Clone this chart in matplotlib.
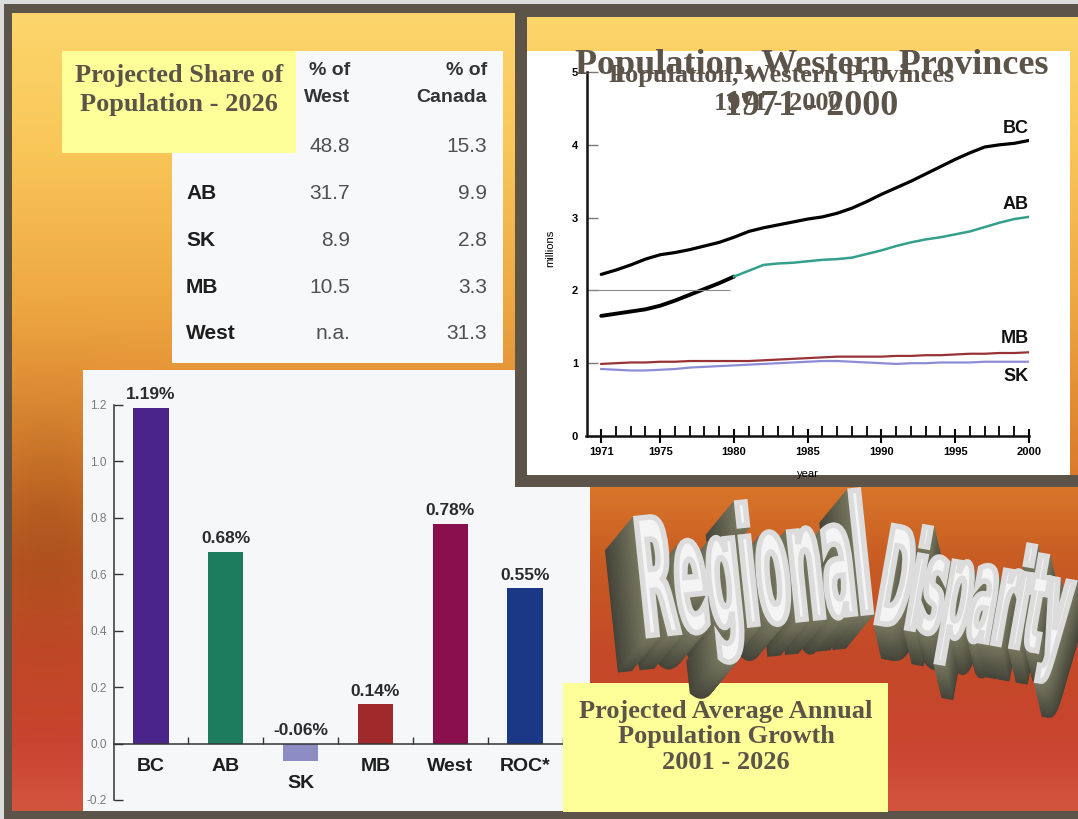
import numpy as np
import matplotlib
matplotlib.use("Agg")
import matplotlib.pyplot as plt
import matplotlib.colors as mcolors
from matplotlib.patches import Rectangle
from matplotlib import patheffects
from matplotlib.transforms import Affine2D

plt.rcParams["font.family"] = ["Liberation Sans", "DejaVu Sans"]

# ---------------- data ----------------
years = list(range(1971, 2001))
pop_bc = [2.22, 2.28, 2.35, 2.43, 2.49, 2.52, 2.56, 2.61, 2.66, 2.73,
          2.81, 2.86, 2.90, 2.94, 2.98, 3.01, 3.06, 3.13, 3.22, 3.32,
          3.41, 3.50, 3.60, 3.70, 3.80, 3.89, 3.97, 4.00, 4.02, 4.06]
pop_ab = [1.65, 1.68, 1.71, 1.74, 1.79, 1.86, 1.94, 2.02, 2.10, 2.19,
          2.27, 2.35, 2.37, 2.38, 2.40, 2.42, 2.43, 2.45, 2.50, 2.55,
          2.61, 2.66, 2.70, 2.73, 2.77, 2.81, 2.87, 2.93, 2.98, 3.01]
pop_mb = [0.99, 1.00, 1.01, 1.01, 1.02, 1.02, 1.03, 1.03, 1.03, 1.03,
          1.03, 1.04, 1.05, 1.06, 1.07, 1.08, 1.09, 1.09, 1.09, 1.09,
          1.10, 1.10, 1.11, 1.11, 1.12, 1.13, 1.13, 1.14, 1.14, 1.15]
pop_sk = [0.92, 0.91, 0.90, 0.90, 0.91, 0.92, 0.94, 0.95, 0.96, 0.97,
          0.98, 0.99, 1.00, 1.01, 1.02, 1.03, 1.03, 1.02, 1.01, 1.00,
          0.99, 1.00, 1.00, 1.01, 1.01, 1.01, 1.02, 1.02, 1.02, 1.02]
year_ticks = [1971, 1975, 1980, 1985, 1990, 1995, 2000]
million_ticks = [0, 1, 2, 3, 4, 5]

growth_regions = ["BC", "AB", "SK", "MB", "West", "ROC*"]
growth_rates = [1.19, 0.68, -0.06, 0.14, 0.78, 0.55]
growth_colors = ["#4a238b", "#1d7c5e", "#8d8dc4", "#a0292b", "#8a0f4f", "#1a3886"]
growth_ticks = [-0.2, 0.0, 0.2, 0.4, 0.6, 0.8, 1.0, 1.2]

share_rows = ["BC", "AB", "SK", "MB", "West"]
share_west = [48.8, 31.7, 8.9, 10.5, None]
share_canada = [15.3, 9.9, 2.8, 3.3, 31.3]
share_headers = ["% of\nWest", "% of\nCanada"]

# ---------------- canvas ----------------
W, H = 1078, 819
BROWN = "#5c5349"
YELLOW = "#ffff99"
SERIF = ["Liberation Serif", "DejaVu Serif"]

fig = plt.figure(figsize=(W / 100, H / 100), dpi=100)
fig.patch.set_facecolor("#dcdcdc")


def pixel_axes(x0, y0, x1, y1, z):
    return fig.add_axes([x0 / W, 1 - y1 / H, (x1 - x0) / W, (y1 - y0) / H], zorder=z)


bg = fig.add_axes([0, 0, 1, 1], zorder=0)
bg.set_xlim(0, W)
bg.set_ylim(H, 0)
bg.axis("off")

# warm slide background: yellow at the top running into red-orange
stop_y = [13, 150, 300, 400, 480, 560, 650, 740, 811]
stop_rgb = np.array([[252, 214, 108], [249, 198, 88], [238, 168, 66], [226, 142, 52],
                     [218, 120, 42], [200, 92, 35], [196, 74, 40], [200, 68, 46],
                     [212, 85, 62]]) / 255.0
ry = np.arange(13, 811)
rx = np.linspace(12, W, 240)
col = np.stack([np.interp(ry, stop_y, stop_rgb[:, k]) for k in range(3)], axis=1)
shade = 1 - 0.14 * np.exp(-((rx[None, :] - 45) / 70.0) ** 2) * np.exp(-((ry[:, None] - 520) / 110.0) ** 2)
grad = np.clip(col[:, None, :] * shade[:, :, None], 0, 1)

bg.add_patch(Rectangle((4, 4), W - 4, H - 4, fc=BROWN, ec="none", zorder=0))
bg.imshow(grad, extent=(12, W, 811, 13), aspect="auto", interpolation="bilinear", zorder=1)

# panels
bg.add_patch(Rectangle((83, 370), 507, 441, fc="#f6f7f9", ec="none", zorder=2))
bg.add_patch(Rectangle((172, 51), 331, 312, fc="#f7f8fa", ec="none", zorder=2))
bg.add_patch(Rectangle((515, 4), 12, 483, fc=BROWN, ec="none", zorder=3))
bg.add_patch(Rectangle((515, 4), W - 515, 13, fc=BROWN, ec="none", zorder=3))
bg.add_patch(Rectangle((515, 475), W - 515, 12, fc=BROWN, ec="none", zorder=3))
bg.add_patch(Rectangle((527, 51), 1070 - 527, 424, fc="white", ec="none", zorder=3))

# share-of-population table
col_right = [350, 487]
for cx, head in zip(col_right, share_headers):
    bg.text(cx, 84, head, ha="right", va="center", multialignment="right",
            fontsize=14, fontweight="bold", color="#333333", linespacing=1.75, zorder=4)
for i, name in enumerate(share_rows):
    ry0 = 147 + i * 46.7
    bg.text(186, ry0, name, ha="left", va="center", fontsize=15, fontweight="bold",
            color="#1e1e1e", zorder=4)
    w_val = share_west[i]
    bg.text(col_right[0], ry0, "n.a." if w_val is None else f"{w_val:.1f}", ha="right",
            va="center", fontsize=15, color="#505050", zorder=4)
    bg.text(col_right[1], ry0, f"{share_canada[i]:.1f}", ha="right", va="center",
            fontsize=15, color="#505050", zorder=4)

bg.add_patch(Rectangle((62, 51), 234, 102, fc=YELLOW, ec="none", zorder=5))
bg.text(179, 90, "Projected Share of\nPopulation - 2026", ha="center", va="center",
        fontsize=19, fontweight="bold", color=BROWN, family=SERIF, linespacing=1.32, zorder=6)

# ---------------- population lines ----------------
ax = pixel_axes(586.5, 72, 1029, 436, z=2)
ax.patch.set_alpha(0)
ax.plot(years[:10], pop_ab[:10], color="black", lw=2.8, solid_capstyle="round")
ax.plot(years[9:], pop_ab[9:], color="#34a08c", lw=1.8)
ax.plot(years, pop_bc, color="black", lw=2.3, solid_capstyle="round")
ax.plot(years, pop_mb, color="#983236", lw=1.6)
ax.plot(years, pop_sk, color="#8c8cd6", lw=1.6)
ax.hlines(2, 1970, 1979.7, color="#8a8a8a", lw=0.8)
for name, yv in [("BC", 4.23), ("AB", 3.18), ("MB", 1.34), ("SK", 0.82)]:
    ax.text(2000, yv, name, ha="right", va="center", fontsize=13, fontweight="bold",
            color="#111111")
ax.set_xlim(1970, 2000)
ax.set_ylim(0, 5)
for s in ["top", "right"]:
    ax.spines[s].set_visible(False)
for s in ["left", "bottom"]:
    ax.spines[s].set_linewidth(1.8)
    ax.spines[s].set_color("#111111")
ax.set_xticks(year_ticks, labels=[str(y) for y in year_ticks], fontsize=8, fontweight="bold")
ax.set_xticks(years, minor=True)
ax.set_yticks(million_ticks, labels=[str(v) for v in million_ticks], fontsize=8,
              fontweight="bold")
ax.tick_params(axis="x", which="major", direction="inout", length=10, width=1.5, pad=3)
ax.tick_params(axis="x", which="minor", direction="in", length=7, width=1.3)
ax.tick_params(axis="y", which="major", direction="in", length=8, width=1, color="#777777",
               pad=6)
ax.set_ylabel("millions", fontsize=8)
ax.yaxis.set_label_coords(-0.071, 0.516)
ax.set_xlabel("year", fontsize=8)
ax.xaxis.set_label_coords(0.5, -0.09)

# ---------------- growth bars ----------------
bx = pixel_axes(113.5, 405, 562.5, 800, z=2)
bx.patch.set_alpha(0)
xpos = np.arange(len(growth_regions))
bx.bar(xpos, growth_rates, width=0.47, color=growth_colors)
for x, v, name in zip(xpos, growth_rates, growth_regions):
    bx.annotate(f"{v:.2f}%", (x, max(v, 0)), xytext=(0, 4), textcoords="offset points",
                ha="center", va="bottom", fontsize=12.5, fontweight="bold", color="#2b2b2b")
    bx.text(x, -0.082 if v >= 0 else -0.14, name, ha="center", va="center", fontsize=14,
            fontweight="bold", color="#1e1e1e")
bx.set_xlim(-0.5, len(growth_regions) - 0.5)
bx.set_ylim(-0.2, 1.2)
bx.spines["top"].set_visible(False)
bx.spines["right"].set_visible(False)
bx.spines["left"].set_bounds(-0.2, 1.2)
bx.spines["bottom"].set_position(("data", 0))
for s in ["left", "bottom"]:
    bx.spines[s].set_linewidth(1.1)
    bx.spines[s].set_color("#333333")
bx.set_yticks(growth_ticks, labels=[f"{t:.1f}" for t in growth_ticks], fontsize=8.5,
              color="#7a7a7a")
bx.set_xticks(xpos + 0.5, labels=[])
bx.tick_params(axis="y", direction="in", length=6.5, width=1, color="#333333", pad=5)
bx.tick_params(axis="x", direction="in", length=5, width=1, color="#333333")

# ---------------- overlay: titles, caption, word art ----------------
ov = fig.add_axes([0, 0, 1, 1], zorder=3)
ov.set_xlim(0, W)
ov.set_ylim(H, 0)
ov.axis("off")
ov.patch.set_alpha(0)

ov.text(782, 82, "Population, Western Provinces", ha="center", va="baseline", fontsize=19,
        fontweight="bold", color=BROWN, family=SERIF)
ov.text(778, 110, "1971 - 2000", ha="center", va="baseline", fontsize=19,
        fontweight="bold", color=BROWN, family=SERIF)
ov.text(812, 74, "Population, Western Provinces", ha="center", va="baseline", fontsize=26,
        fontweight="bold", color=BROWN, family=SERIF)
ov.text(811, 115, "1971 - 2000", ha="center", va="baseline", fontsize=26,
        fontweight="bold", color=BROWN, family=SERIF)

ov.add_patch(Rectangle((563, 683), 325, 129, fc=YELLOW, ec="none", zorder=2))
ov.text(726, 737, "Projected Average Annual\nPopulation Growth\n2001 - 2026", ha="center",
        va="center", fontsize=19, fontweight="bold", color=BROWN, family=SERIF,
        linespacing=1.15, zorder=3)


class BlockLetters(patheffects.AbstractPathEffect):
    """Tall extruded lettering: stretches the glyphs vertically and stacks
    shifted copies behind the face to fake a 3-D block."""

    def __init__(self, stretch, depth, steps=40, far="#44443a", near="#76765e",
                 face="#f4f4f4", rim="#dcdcdc", rim_width=4.0):
        super().__init__()
        self.stretch = stretch
        self.depth = depth
        self.steps = steps
        self.far = np.array(mcolors.to_rgb(far))
        self.near = np.array(mcolors.to_rgb(near))
        self.face = mcolors.to_rgb(face)
        self.rim = rim
        self.rim_width = rim_width

    def draw_path(self, renderer, gc, tpath, affine, rgbFace=None):
        base = Affine2D().scale(1.0, self.stretch) + affine
        g = renderer.new_gc()
        g.copy_properties(gc)
        g.set_joinstyle("miter")
        dx, dy = self.depth
        for i in range(self.steps, 0, -1):
            t = i / self.steps
            c = tuple(self.near + (self.far - self.near) * t)
            g.set_foreground(c)
            g.set_linewidth(self.rim_width)
            renderer.draw_path(g, tpath, base + Affine2D().translate(dx * t, dy * t), c)
        g.set_foreground(self.rim)
        g.set_linewidth(self.rim_width)
        renderer.draw_path(g, tpath, base, self.face)
        g.restore()


ov.text(644, 636, "Regional", ha="left", va="baseline", rotation=6, rotation_mode="anchor",
        fontsize=34, fontweight="bold", family="DejaVu Sans", color="white", zorder=4,
        path_effects=[BlockLetters(3.42, (-28, -34))])
ov.text(873, 622, "Disparity", ha="left", va="baseline", rotation=-10, rotation_mode="anchor",
        fontsize=27, fontweight="bold", family="DejaVu Sans", color="white", zorder=4,
        path_effects=[BlockLetters(3.6, (8, -34))])

fig.savefig("out.png", dpi=100, facecolor=fig.get_facecolor())
